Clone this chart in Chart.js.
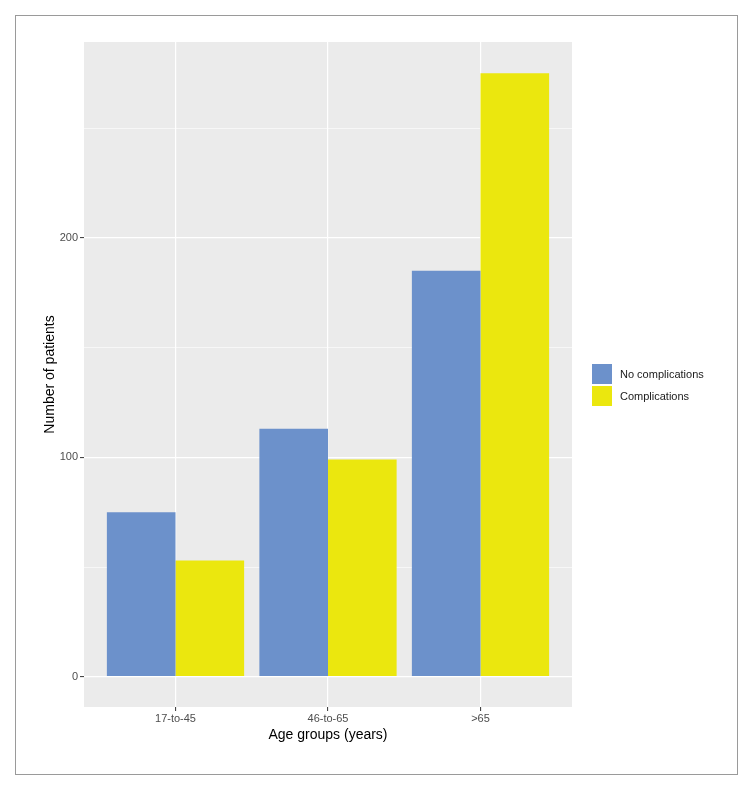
<!DOCTYPE html>
<html>
<head>
<meta charset="utf-8">
<script src="https://cdn.jsdelivr.net/npm/chart.js@4.4.1/dist/chart.umd.min.js"></script>
<style>
  html, body { margin: 0; padding: 0; background: #fff; }
  body { width: 753px; height: 791px; position: relative; overflow: hidden;
         font-family: "Liberation Sans", Arial, sans-serif; }
  .frame { position: absolute; left: 15px; top: 15px; width: 723px; height: 760px;
           box-sizing: border-box; border: 1px solid #9a9a9a; }
  #chart { position: absolute; left: 0; top: 0; }
  .legend { position: absolute; left: 592px; top: 364px; }
  .legend .item { display: flex; align-items: center; height: 20px; margin-bottom: 1.5px; }
  .legend .key { width: 20px; height: 20px; margin-right: 8px; }
  .legend .txt { font-size: 11px; color: #1a1a1a; }
</style>
</head>
<body>
<div class="frame"></div>
<canvas id="chart" width="753" height="791"></canvas>
<div class="legend" id="legend"></div>

<script>
'use strict';

// ── Data ──────────────────────────────────────────────────
const ageGroups       = ['17-to-45', '46-to-65', '>65'];
const noComplications = [75, 113, 185];
const complications   = [53, 99, 275];
const seriesNames     = ['No complications', 'Complications'];
const yTicks          = [0, 50, 100, 150, 200, 250];

// ── Style ─────────────────────────────────────────────────
const BLUE   = '#6c91cb';
const YELLOW = '#ebe70e';
const PANEL  = '#ebebeb';
const FONT   = '"Liberation Sans", Arial, sans-serif';

const toPoints = arr => arr.map((v, i) => ({ x: i + 1, y: v }));

// ggplot-style grey panel behind the plot area
const panelBg = {
  id: 'panelBg',
  beforeDraw(chart) {
    const { ctx, chartArea: a } = chart;
    ctx.save();
    ctx.fillStyle = PANEL;
    ctx.fillRect(a.left, a.top, a.right - a.left, a.bottom - a.top);
    ctx.restore();
  }
};

new Chart(document.getElementById('chart'), {
  type: 'bar',
  data: {
    datasets: [
      { label: seriesNames[0], data: toPoints(noComplications), backgroundColor: BLUE,   borderWidth: 0 },
      { label: seriesNames[1], data: toPoints(complications),   backgroundColor: YELLOW, borderWidth: 0 }
    ]
  },
  options: {
    responsive: false,
    animation: false,
    devicePixelRatio: 1,
    categoryPercentage: 0.9,
    barPercentage: 1.0,
    layout: { padding: { left: 42, top: 42, right: 181, bottom: 47 } },
    plugins: { legend: { display: false }, tooltip: { enabled: false } },
    scales: {
      x: {
        type: 'linear',
        min: 0.4, max: 3.6,
        offset: false,
        afterBuildTicks: s => { s.ticks = ageGroups.map((_, i) => ({ value: i + 1 })); },
        afterFit: s => { s.height = 37; },
        ticks: {
          callback: v => ageGroups[v - 1] ?? '',
          color: '#4d4d4d', font: { family: FONT, size: 11 }, padding: 1,
          maxRotation: 0, autoSkip: false
        },
        grid: { color: '#ffffff', lineWidth: 1.2, offset: false, tickLength: 4, tickColor: '#333333', tickWidth: 1 },
        border: { display: false },
        title: { display: true, text: 'Age groups (years)', color: '#000', font: { family: FONT, size: 14 }, padding: 0 }
      },
      y: {
        min: -13.8, max: 289.3,
        afterBuildTicks: s => { s.ticks = yTicks.map(v => ({ value: v })); },
        afterFit: s => { s.width = 42; },
        ticks: {
          callback: v => (v % 100 === 0 ? v : ''),
          color: '#4d4d4d', font: { family: FONT, size: 11 }, padding: 2
        },
        grid: {
          color: '#ffffff',
          lineWidth: c => (c.tick && c.tick.value % 100 === 0 ? 1.2 : 0.6),
          tickLength: 4,
          tickWidth: 1,
          tickColor: c => (c.tick && c.tick.value % 100 === 0 ? '#333333' : 'rgba(0,0,0,0)')
        },
        border: { display: false },
        title: { display: true, text: 'Number of patients', color: '#000', font: { family: FONT, size: 14 }, padding: 0 }
      }
    }
  },
  plugins: [panelBg]
});

// ── Legend ────────────────────────────────────────────────
document.getElementById('legend').innerHTML = seriesNames.map((n, i) => `
  <div class="item">
    <div class="key" style="background:${i === 0 ? BLUE : YELLOW}"></div>
    <div class="txt">${n}</div>
  </div>`).join('');
</script>
</body>
</html>
